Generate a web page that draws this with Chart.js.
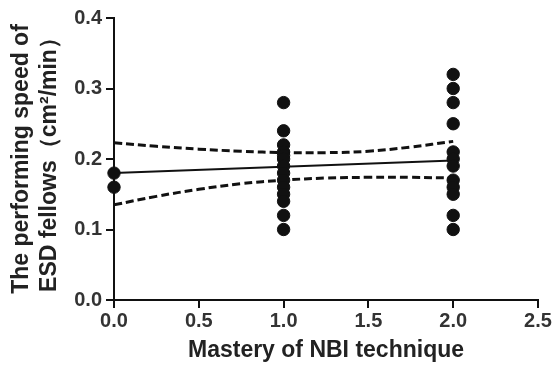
<!DOCTYPE html>
<html>
<head>
<meta charset="utf-8">
<script src="https://cdn.jsdelivr.net/npm/chart.js@4/dist/chart.umd.min.js"></script>
<style>
  html, body { margin: 0; padding: 0; background: #fff; }
  #chart { display: block; }
</style>
</head>
<body>
<canvas id="chart" width="555" height="365"></canvas>
<script>
// --- data ---
const groupLevels = [0, 1, 2];
const speedLevel0 = [0.18, 0.16];
const speedLevel1 = [0.28, 0.24, 0.22, 0.21, 0.205, 0.20, 0.19, 0.18, 0.17, 0.16, 0.15, 0.14, 0.12, 0.10];
const speedLevel2 = [0.32, 0.30, 0.28, 0.25, 0.21, 0.20, 0.19, 0.17, 0.16, 0.15, 0.12, 0.10];

// fitted line and 95% band, read at these x positions
const fitX = [0, 2];
const fitY = [0.180, 0.198];
const bandX = [0, 0.25, 0.5, 0.75, 1.0, 1.25, 1.5, 1.75, 2.0];
const bandUpper = [0.223, 0.218, 0.214, 0.211, 0.209, 0.209, 0.211, 0.217, 0.225];
const bandLower = [0.135, 0.147, 0.157, 0.165, 0.170, 0.173, 0.174, 0.174, 0.173];

const xTicks = [0, 0.5, 1.0, 1.5, 2.0, 2.5];
const yTicks = [0, 0.1, 0.2, 0.3, 0.4];

const xTitle = 'Mastery of NBI technique';
const yTitle = ['The performing speed of', 'ESD fellows（cm²/min）'];

// build point list
const points = [];
[speedLevel0, speedLevel1, speedLevel2].forEach((arr, i) => {
    arr.forEach(v => points.push({ x: groupLevels[i], y: v }));
});

const toXY = (xs, ys) => xs.map((x, i) => ({ x: x, y: ys[i] }));

const FONT = '"Liberation Sans", Arial, sans-serif';
const INK = '#111';
const TEXT = '#333';

new Chart(document.getElementById('chart'), {
    type: 'scatter',
    data: {
        datasets: [
            {
                data: points,
                backgroundColor: INK,
                borderColor: INK,
                pointRadius: 6.2,
                pointHoverRadius: 6.2,
                clip: false
            },
            {
                data: toXY(fitX, fitY),
                showLine: true,
                borderColor: INK,
                borderWidth: 2,
                pointRadius: 0
            },
            {
                data: toXY(bandX, bandUpper),
                showLine: true,
                borderColor: INK,
                borderWidth: 3,
                borderDash: [8, 4],
                tension: 0.4,
                pointRadius: 0
            },
            {
                data: toXY(bandX, bandLower),
                showLine: true,
                borderColor: INK,
                borderWidth: 3,
                borderDash: [8, 4],
                tension: 0.4,
                pointRadius: 0
            }
        ]
    },
    options: {
        responsive: false,
        animation: false,
        events: [],
        layout: { padding: { top: 18, right: 17, left: 0, bottom: 0 } },
        plugins: {
            legend: { display: false },
            tooltip: { enabled: false }
        },
        scales: {
            x: {
                type: 'linear',
                min: 0,
                max: 2.5,
                afterBuildTicks: scale => { scale.ticks = xTicks.map(v => ({ value: v })); },
                afterFit: scale => { scale.height = 65; },
                border: { display: true, color: INK, width: 2 },
                grid: { drawOnChartArea: false, color: INK, tickLength: 8, lineWidth: 2 },
                ticks: {
                    padding: 1,
                    color: TEXT,
                    font: { family: FONT, size: 20, weight: 'bold' },
                    callback: v => v.toFixed(1)
                },
                title: {
                    display: true,
                    text: xTitle,
                    color: '#222',
                    padding: { top: 0, bottom: 3 },
                    font: { family: FONT, size: 23, weight: 'bold', lineHeight: 1.0 }
                }
            },
            y: {
                type: 'linear',
                min: 0,
                max: 0.4,
                afterBuildTicks: scale => { scale.ticks = yTicks.map(v => ({ value: v })); },
                afterFit: scale => { scale.width = 114; },
                border: { display: true, color: INK, width: 2 },
                grid: { drawOnChartArea: false, color: INK, tickLength: 8, lineWidth: 2 },
                ticks: {
                    padding: 4,
                    color: TEXT,
                    font: { family: FONT, size: 20, weight: 'bold' },
                    callback: v => v.toFixed(1)
                },
                title: {
                    display: true,
                    text: yTitle,
                    color: '#222',
                    padding: { top: 8, bottom: 0 },
                    font: { family: FONT, size: 23, weight: 'bold', lineHeight: 1.2 }
                }
            }
        }
    }
});
</script>
</body>
</html>
